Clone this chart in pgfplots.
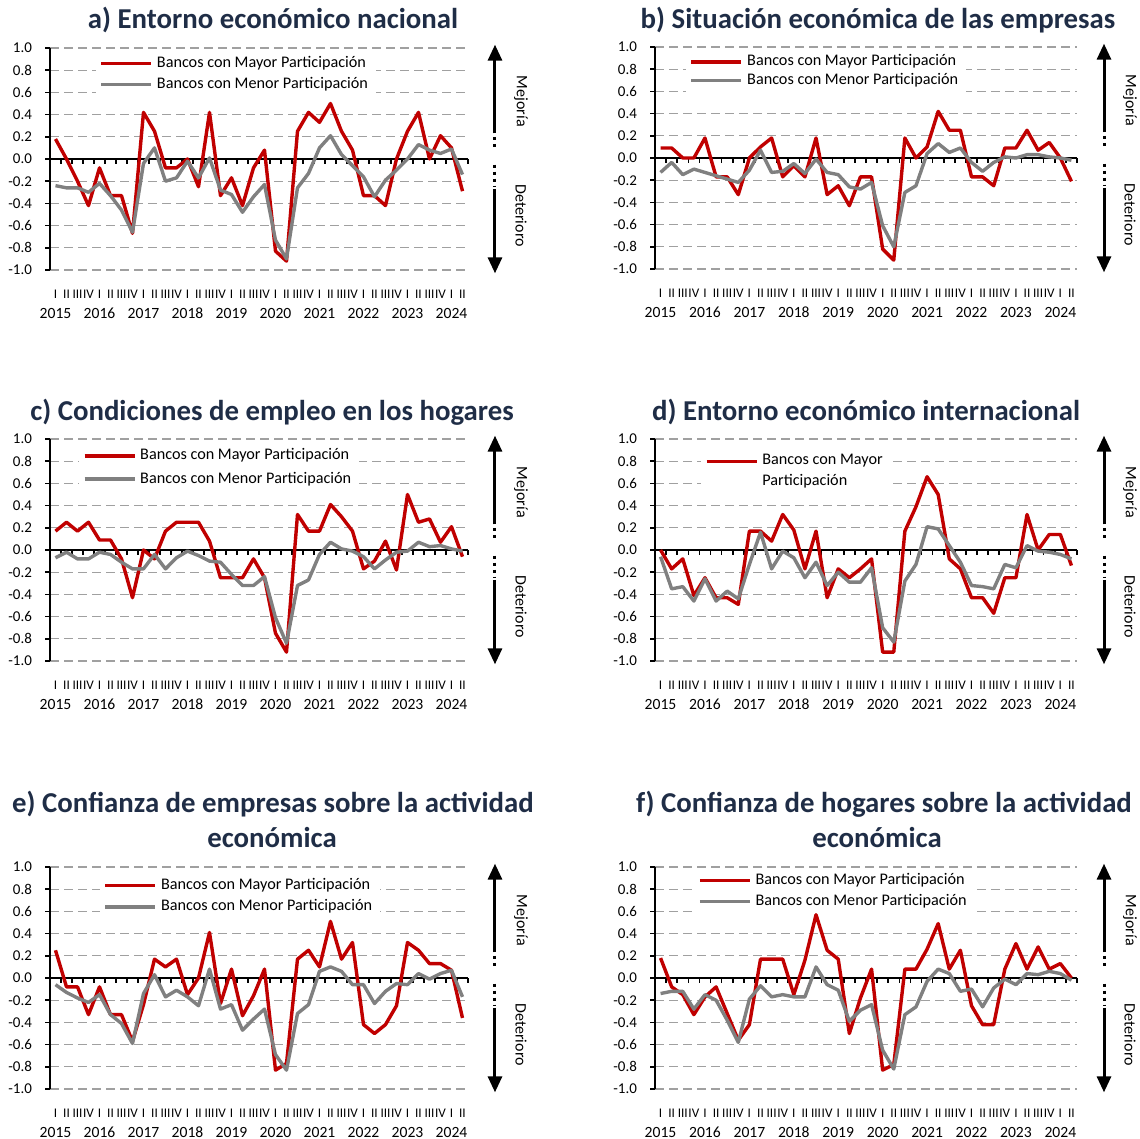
\documentclass[border=0pt]{standalone}
\usepackage{fontspec}
\setmainfont{Carlito}
\usepackage{pgfplots}
\pgfplotsset{compat=1.18}
\usepackage{pgfplotstable}
\usetikzlibrary{arrows.meta}
\definecolor{redS}{RGB}{192,0,0}
\definecolor{grayS}{RGB}{128,128,128}
\definecolor{gridc}{RGB}{160,160,160}
\definecolor{titlec}{RGB}{31,45,70}

\pgfplotstableread{
x ar ag br bg cr cg dr dg er eg fr fg
0 0.18 -0.24 0.09 -0.13 0.17 -0.07 0 -0.06 0.25 -0.06 0.18 -0.14
1 0 -0.26 0.09 -0.04 0.25 -0.02 -0.17 -0.35 -0.08 -0.13 -0.08 -0.12
2 -0.2 -0.26 0 -0.15 0.17 -0.08 -0.08 -0.33 -0.08 -0.18 -0.15 -0.12
3 -0.42 -0.3 0 -0.1 0.25 -0.08 -0.41 -0.46 -0.33 -0.22 -0.33 -0.28
4 -0.08 -0.22 0.18 -0.13 0.09 -0.02 -0.25 -0.26 -0.08 -0.15 -0.17 -0.15
5 -0.33 -0.33 -0.17 -0.16 0.09 -0.04 -0.43 -0.46 -0.33 -0.33 -0.08 -0.2
6 -0.33 -0.46 -0.17 -0.19 -0.08 -0.11 -0.43 -0.37 -0.33 -0.41 -0.32 -0.38
7 -0.67 -0.66 -0.33 -0.22 -0.43 -0.17 -0.49 -0.44 -0.57 -0.59 -0.56 -0.58
8 0.42 -0.04 0 -0.11 0 -0.17 0.17 -0.13 -0.24 -0.14 -0.42 -0.19
9 0.25 0.1 0.1 0.07 -0.08 -0.04 0.17 0.16 0.17 0.03 0.17 -0.07
10 -0.08 -0.2 0.18 -0.13 0.17 -0.17 0.08 -0.17 0.1 -0.17 0.17 -0.17
11 -0.08 -0.17 -0.17 -0.12 0.25 -0.07 0.32 -0.01 0.17 -0.11 0.17 -0.15
12 0 -0.02 -0.07 -0.05 0.25 -0.01 0.18 -0.07 -0.15 -0.17 -0.15 -0.17
13 -0.25 -0.17 -0.17 -0.14 0.25 -0.05 -0.17 -0.25 0 -0.25 0.16 -0.17
14 0.42 0.01 0.18 -0.01 0.08 -0.1 0.17 -0.11 0.41 0.08 0.57 0.1
15 -0.33 -0.28 -0.33 -0.13 -0.25 -0.11 -0.43 -0.32 -0.23 -0.28 0.25 -0.06
16 -0.17 -0.32 -0.25 -0.15 -0.25 -0.22 -0.17 -0.2 0.08 -0.24 0.17 -0.11
17 -0.42 -0.48 -0.43 -0.26 -0.25 -0.32 -0.25 -0.29 -0.34 -0.47 -0.5 -0.39
18 -0.08 -0.34 -0.17 -0.28 -0.08 -0.32 -0.17 -0.29 -0.16 -0.37 -0.18 -0.29
19 0.08 -0.23 -0.17 -0.22 -0.25 -0.24 -0.08 -0.16 0.08 -0.28 0.08 -0.24
20 -0.83 -0.73 -0.82 -0.61 -0.75 -0.61 -0.92 -0.7 -0.83 -0.69 -0.83 -0.65
21 -0.92 -0.9 -0.92 -0.8 -0.92 -0.84 -0.92 -0.83 -0.77 -0.83 -0.78 -0.82
22 0.25 -0.26 0.18 -0.31 0.32 -0.32 0.17 -0.28 0.17 -0.32 0.08 -0.33
23 0.42 -0.13 0 -0.25 0.17 -0.27 0.39 -0.13 0.25 -0.24 0.08 -0.26
24 0.33 0.1 0.1 0.04 0.17 -0.04 0.66 0.21 0.1 0.06 0.26 -0.03
25 0.5 0.21 0.42 0.13 0.41 0.07 0.5 0.19 0.51 0.1 0.49 0.08
26 0.25 0.04 0.25 0.05 0.3 0.01 -0.08 0.04 0.17 0.06 0.08 0.04
27 0.08 -0.06 0.25 0.09 0.17 -0.01 -0.17 -0.11 0.32 -0.06 0.25 -0.12
28 -0.33 -0.16 -0.17 -0.04 -0.17 -0.06 -0.43 -0.32 -0.42 -0.06 -0.25 -0.1
29 -0.33 -0.34 -0.17 -0.12 -0.1 -0.17 -0.43 -0.33 -0.5 -0.23 -0.42 -0.26
30 -0.42 -0.19 -0.25 -0.04 0.08 -0.09 -0.57 -0.35 -0.42 -0.12 -0.42 -0.09
31 0 -0.1 0.09 0.01 -0.18 -0.02 -0.25 -0.13 -0.25 -0.05 0.08 -0.01
32 0.25 0 0.09 0 0.5 -0.01 -0.25 -0.16 0.32 -0.06 0.31 -0.06
33 0.42 0.13 0.25 0.03 0.25 0.07 0.32 0.04 0.25 0.04 0.08 0.04
34 0 0.08 0.07 0.03 0.28 0.03 0 -0.01 0.13 -0.01 0.28 0.03
35 0.21 0.05 0.14 0.01 0.07 0.04 0.14 -0.02 0.13 0.04 0.08 0.06
36 0.1 0.09 0 0 0.21 0.01 0.14 -0.04 0.07 0.07 0.13 0.04
37 -0.29 -0.14 -0.21 -0.02 -0.06 -0.01 -0.14 -0.08 -0.36 -0.17 0 -0.02
}\data

\pgfplotsset{
  panel/.style={
    scale only axis, width=#1, height=111pt,
    xmin=-0.5, xmax=37.5, ymin=-1, ymax=1,
    axis lines*=left,
    x axis line style={draw=none},
    y axis line style={black, line width=1pt},
    ytick={-1,-0.8,-0.6,-0.4,-0.2,0,0.2,0.4,0.6,0.8,1},
    yticklabels={-1.0,-0.8,-0.6,-0.4,-0.2,0.0,0.2,0.4,0.6,0.8,1.0},
    yticklabel style={font=\fontsize{7.5}{8}\selectfont, xshift=-3pt},
    ytick style={black, line width=0.8pt},
    tick align=outside, major tick length=2.5pt,
    xtick={0,...,37},
    xticklabels={I,II,III,IV,I,II,III,IV,I,II,III,IV,I,II,III,IV,I,II,III,IV,I,II,III,IV,I,II,III,IV,I,II,III,IV,I,II,III,IV,I,II},
    xtick style={draw=none},
    xticklabel style={font=\fontsize{6.6}{7}\selectfont, anchor=north, yshift=-4pt},
    extra x ticks={0,4,...,36},
    extra x tick labels={2015,2016,2017,2018,2019,2020,2021,2022,2023,2024},
    extra x tick style={xticklabel style={yshift=-9pt, font=\fontsize{7.8}{8}\selectfont}},
    ymajorgrids, grid style={gridc, line width=0.6pt, dash pattern=on 4.5pt off 2.5pt},
    clip=false,
    legend cell align=left,
    legend image code/.code={\draw[##1] (0pt,0pt) -- (25pt,0pt);},
    legend style={draw=none, fill=white, font=\fontsize{8.1}{9}\selectfont, anchor=north west,
      inner xsep=2pt, inner ysep=1pt, nodes={inner ysep=1pt, inner xsep=2pt}},
  },
  rline/.style={redS, line width=1.7pt, line join=round},
  gline/.style={grayS, line width=1.7pt, line join=round},
}

\newcommand{\zeroline}{%
  \draw[black, line width=1pt] (axis cs:-0.5,0) -- (axis cs:37.5,0);
  \pgfplotsinvokeforeach{-0.5,0.5,...,37.5}{\draw[black, line width=0.8pt] (axis cs:##1,0) -- ([yshift=-2.5pt]axis cs:##1,0);}%
}
\newcommand{\deco}{%
  \draw[line width=1.5pt,-{Triangle[width=7pt,length=8pt]}] ([xshift=13.5pt]rel axis cs:1,0.615) -- ([xshift=13.5pt]rel axis cs:1,1.015);
  \draw[line width=1.5pt, dash pattern=on 1.5pt off 2pt] ([xshift=13.5pt]rel axis cs:1,0.6) -- ([xshift=13.5pt]rel axis cs:1,0.54);
  \draw[line width=1.5pt, dash pattern=on 1.5pt off 2pt] ([xshift=13.5pt]rel axis cs:1,0.475) -- ([xshift=13.5pt]rel axis cs:1,0.375);
  \draw[line width=1.5pt,-{Triangle[width=7pt,length=8pt]}] ([xshift=13.5pt]rel axis cs:1,0.365) -- ([xshift=13.5pt]rel axis cs:1,-0.015);
  \node[rotate=-90, font=\fontsize{8}{9}\selectfont] at ([xshift=26.5pt]rel axis cs:1,0.76) {Mejoría};
  \node[rotate=-90, font=\fontsize{8}{9}\selectfont] at ([xshift=26.5pt]rel axis cs:1,0.245) {Deterioro};
}

\begin{document}
\begin{tikzpicture}
\path[use as bounding box] (0pt,0pt) rectangle (570pt,-569.5pt);

\tikzset{ttl/.style={anchor=base, text=titlec, font=\bfseries\fontsize{14.4}{15}\selectfont}}
\node[ttl] at (136.5pt,-14.5pt) {a) Entorno económico nacional};
\node[ttl] at (439pt,-14.5pt) {b) Situación económica de las empresas};
\node[ttl] at (136pt,-210pt) {c) Condiciones de empleo en los hogares};
\node[ttl] at (433pt,-210pt) {d) Entorno económico internacional};
\node[ttl] at (136.5pt,-406pt) {e) Confianza de empresas sobre la actividad};
\node[ttl] at (136pt,-423.5pt) {económica};
\node[ttl] at (442pt,-406pt) {f) Confianza de hogares sobre la actividad};
\node[ttl] at (438.5pt,-423.5pt) {económica};

% a
\begin{axis}[panel=209pt, at={(25pt,-24pt)}, anchor=north west,
  legend style={at={(0.108,0.982)}, row sep=1.5pt}]
\zeroline
\addplot[rline] table[x=x,y=ar]{\data};
\addlegendentry{Bancos con Mayor Participación}
\addplot[gline] table[x=x,y=ag]{\data};
\addlegendentry{Bancos con Menor Participación}
\deco
\end{axis}

% b
\begin{axis}[panel=211pt, at={(327.5pt,-23.5pt)}, anchor=north west,
  legend style={at={(0.072,0.985)}, row sep=0.3pt}]
\zeroline
\addplot[rline] table[x=x,y=br]{\data};
\addlegendentry{Bancos con Mayor Participación}
\addplot[gline] table[x=x,y=bg]{\data};
\addlegendentry{Bancos con Menor Participación}
\deco
\end{axis}

% c
\begin{axis}[panel=209pt, at={(25pt,-219.5pt)}, anchor=north west,
  legend style={at={(0.068,0.976)}, row sep=2.5pt}]
\zeroline
\addplot[rline] table[x=x,y=cr]{\data};
\addlegendentry{Bancos con Mayor Participación}
\addplot[gline] table[x=x,y=cg]{\data};
\addlegendentry{Bancos con Menor Participación}
\deco
\end{axis}

% d
\begin{axis}[panel=211pt, at={(327.5pt,-219.5pt)}, anchor=north west,
  legend style={at={(0.108,0.95)}, row sep=1pt}]
\zeroline
\addplot[rline] table[x=x,y=dr]{\data};
\addlegendentry{Bancos con Mayor}
\addplot[gline, forget plot] table[x=x,y=dg]{\data};
\addlegendimage{empty legend}
\addlegendentry{Participación}
\deco
\end{axis}

% e
\begin{axis}[panel=209pt, at={(25pt,-433.5pt)}, anchor=north west,
  legend style={at={(0.118,0.968)}, row sep=1.5pt}]
\zeroline
\addplot[rline] table[x=x,y=er]{\data};
\addlegendentry{Bancos con Mayor Participación}
\addplot[gline] table[x=x,y=eg]{\data};
\addlegendentry{Bancos con Menor Participación}
\deco
\end{axis}

% f
\begin{axis}[panel=211pt, at={(327.5pt,-433.5pt)}, anchor=north west,
  legend style={at={(0.092,0.99)}, row sep=1.3pt}]
\zeroline
\addplot[rline] table[x=x,y=fr]{\data};
\addlegendentry{Bancos con Mayor Participación}
\addplot[gline] table[x=x,y=fg]{\data};
\addlegendentry{Bancos con Menor Participación}
\deco
\end{axis}
\end{tikzpicture}
\end{document}
